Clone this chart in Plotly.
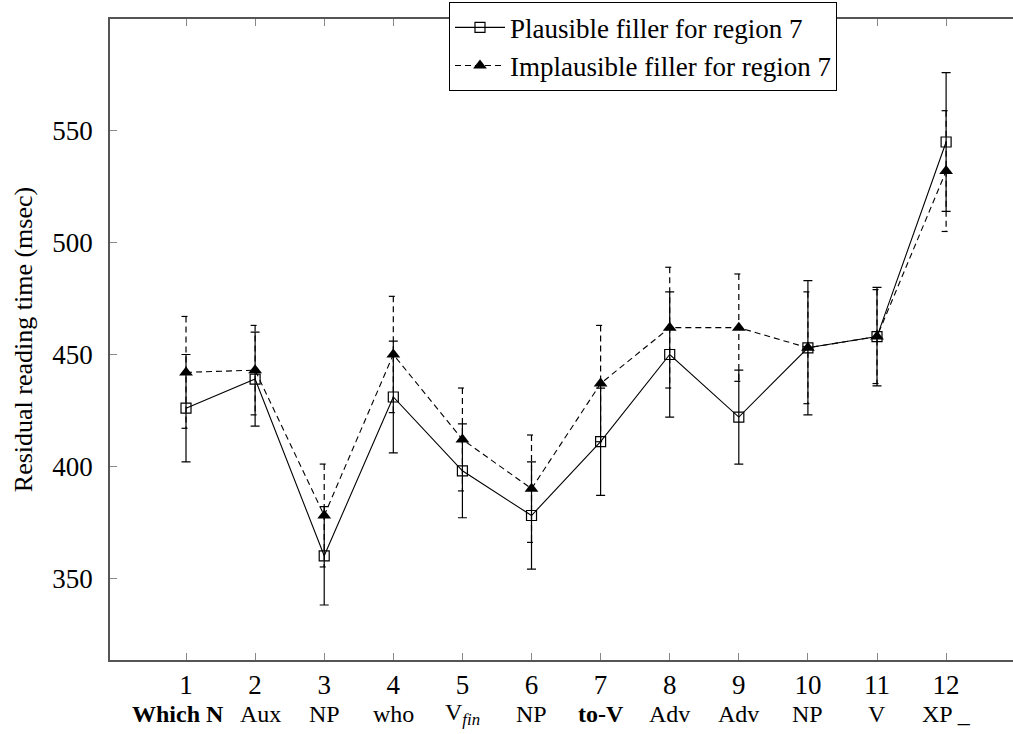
import plotly.graph_objects as go

# Sentence regions (x positions) and their word labels
regions = list(range(1, 12 + 1))
region_words = ["<b>Which N</b>", "Aux", "NP", "who", "V<sub><i>fin</i></sub>", "NP",
                "<b>to-V</b>", "Adv", "Adv", "NP", "V", "XP _"]

# Mean residual reading times (msec) and error half-widths
plausible = [426, 439, 360, 431, 398, 378, 411, 450, 422, 453, 458, 545]
plausible_err = [24, 21, 22, 25, 21, 24, 24, 28, 21, 30, 22, 31]
implausible = [442, 443, 378, 450, 412, 390, 437, 462, 462, 453, 458, 532]
implausible_err = [25, 20, 23, 26, 23, 24, 26, 27, 24, 25, 21, 27]

FONT = "Liberation Serif"
CAP = 0.065  # half-width of dashed error-bar caps, in x units

# dashed error bars for the implausible series, built as line segments
ex, ey = [], []
for x, v, e in zip(regions, implausible, implausible_err):
    hi, lo = v + e, v - e
    ex += [x - CAP, x + CAP, None, x, x, None, x - CAP, x + CAP, None]
    ey += [hi, hi, None, hi, lo, None, lo, lo, None]

fig = go.Figure()
fig.add_trace(go.Scatter(
    x=ex, y=ey, mode="lines", showlegend=False, hoverinfo="skip",
    line=dict(color="black", width=1.2, dash="6px,4px"),
))
fig.add_trace(go.Scatter(
    x=regions, y=plausible, mode="lines+markers",
    name="Plausible filler for region 7",
    line=dict(color="black", width=1.1),
    marker=dict(symbol="square-open", size=10, color="black", line=dict(width=1.2)),
    error_y=dict(type="data", array=plausible_err, visible=True,
                 color="black", thickness=1.2, width=4.5),
))
fig.add_trace(go.Scatter(
    x=regions, y=implausible, mode="lines+markers",
    name="Implausible filler for region 7",
    line=dict(color="black", width=1.1, dash="6px,4px"),
    marker=dict(symbol="triangle-up", size=12, color="black"),
))

# second row of x labels: the words of each region
for i, (x, w) in enumerate(zip(regions, region_words)):
    fig.add_annotation(x=x, y=-0.085, xref="x", yref="paper", text=w,
                       showarrow=False, yanchor="middle",
                       xshift=-8 if i == 0 else (5 if i == 1 else 0),
                       font=dict(family=FONT, size=24, color="black"))

fig.update_layout(
    width=1013, height=734,
    margin=dict(l=110, r=0, t=19, b=74),
    paper_bgcolor="white", plot_bgcolor="white",
    font=dict(family=FONT, size=27, color="black"),
    showlegend=True,
    legend=dict(
        x=0.3754, y=1.026, xanchor="left", yanchor="top",
        bgcolor="white", bordercolor="black", borderwidth=1,
        itemwidth=50,
        font=dict(family=FONT, size=27, color="black"),
    ),
    xaxis=dict(
        range=[-0.1, 12.968], tickmode="array", tickvals=regions,
        ticktext=[str(r) for r in regions],
        tickfont=dict(family=FONT, size=27),
        showgrid=False, zeroline=False,
        showline=True, linecolor="#555", linewidth=1.5, mirror="ticks",
        ticks="inside", ticklen=7, tickcolor="#888", tickwidth=1,
        ticklabelstandoff=0,
    ),
    yaxis=dict(
        range=[313.4, 600], tickmode="array", tickvals=[350, 400, 450, 500, 550],
        tickfont=dict(family=FONT, size=27),
        showgrid=False, zeroline=False,
        showline=True, linecolor="#555", linewidth=1.5,
        ticks="inside", ticklen=7, tickcolor="#888", tickwidth=1,
        ticklabelstandoff=10,
        title=dict(text="Residual reading time (msec)", standoff=12,
                   font=dict(family=FONT, size=26)),
    ),
)

fig.write_html("out.html")
